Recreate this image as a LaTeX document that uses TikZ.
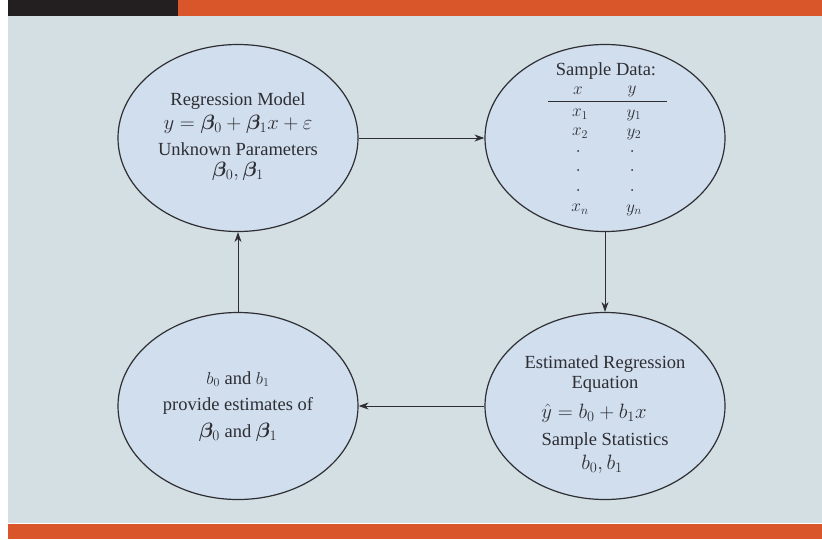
\documentclass[tikz,border=0pt]{standalone}
\usepackage{fontspec}
\usepackage{bm}
\setmainfont{Liberation Serif}
\usetikzlibrary{shapes.geometric,arrows.meta}
\definecolor{bg}{HTML}{D4DFE3}
\definecolor{ellfill}{HTML}{D0DEEE}
\definecolor{orng}{HTML}{D9552A}
\definecolor{darkbar}{HTML}{231F20}
\definecolor{ink}{HTML}{2E2E33}
\begin{document}
\begin{tikzpicture}[x=1pt,y=-1pt,
  oval/.style={ellipse,draw=ink,line width=1.2pt,fill=ellfill,minimum width=240pt,minimum height=187pt,inner sep=0pt},
  txt/.style={font=\fontsize{18.5}{20}\selectfont,text=ink,inner sep=0pt},
  big/.style={txt,font=\fontsize{21}{22}\selectfont},
  dotm/.style={circle,fill=ink,inner sep=0pt,minimum size=2pt},
  arr/.style={draw=ink,line width=0.9pt,-{Stealth[length=10pt,width=7pt]}}]
\useasboundingbox (0,0) rectangle (822,539);
\fill[white] (0,0) rectangle (822,539);
\fill[bg] (8,16) rectangle (822,523);
\fill[darkbar] (8,0) rectangle (178,16);
\fill[orng] (178,0) rectangle (822,16);
\fill[orng] (8,524) rectangle (822,539);

\node[oval] (tl) at (238,138) {};
\node[oval] (tr) at (605,138) {};
\node[oval] (bl) at (238,406) {};
\node[oval] (br) at (605,406) {};

% top-left
\node[txt] (t1) at (238,101) {Regression Model};
\node[big] (t2) at (238,124) {$y = \bm{\beta}_0 + \bm{\beta}_1 x + \varepsilon$};
\node[txt] (t3) at (238,149) {Unknown Parameters};
\node[big] (t4) at (238,171) {$\bm{\beta}_0, \bm{\beta}_1$};

% top-right
\node[txt] (s1) at (606,71) {Sample Data:};
\node[txt] (hx) at (578,91) {$x$};
\node[txt] (hy) at (632,91) {$y$};
\coordinate (rl) at (548,101);
\coordinate (rr) at (667,101);
\draw[ink,line width=0.8pt] (rl) -- (rr);
\node[txt] (x1) at (580,114) {$x_1$};
\node[txt] (y1) at (634,115) {$y_1$};
\node[txt] (x2) at (580,133) {$x_2$};
\node[txt] (y2) at (634,134) {$y_2$};
\node[dotm] (dx1) at (578,151) {};
\node[dotm] (dy1) at (632,151) {};
\node[dotm] (dx2) at (578,170) {};
\node[dotm] (dy2) at (632,170) {};
\node[dotm] (dx3) at (578,190) {};
\node[dotm] (dy3) at (632,190) {};
\node[txt] (xn) at (580,209) {$x_n$};
\node[txt] (yn) at (634,210) {$y_n$};

% bottom-left
\node[txt] (b1) at (238,379) {$b_0$ and $b_1$};
\node[txt] (b2) at (238,406) {provide estimates of};
\node[txt] (b3) at (238,432) {{\fontsize{21}{22}\selectfont$\bm{\beta}_0$} and {\fontsize{21}{22}\selectfont$\bm{\beta}_1$}};

% bottom-right
\node[txt] (e1) at (605,364) {Estimated Regression};
\node[txt] (e2) at (605,384) {Equation};
\node[big] (e3) at (594,413) {$\hat{y} = b_0 + b_1 x$};
\node[txt] (e4) at (605,441) {Sample Statistics};
\node[big] (e5) at (602,464) {$b_0, b_1$};

\draw[arr] (tl.east) -- (tr.west);
\draw[arr] (tr.south) -- (br.north);
\draw[arr] (br.west) -- (bl.east);
\draw[arr] (bl.north) -- (tl.south);
\end{tikzpicture}
\end{document}
